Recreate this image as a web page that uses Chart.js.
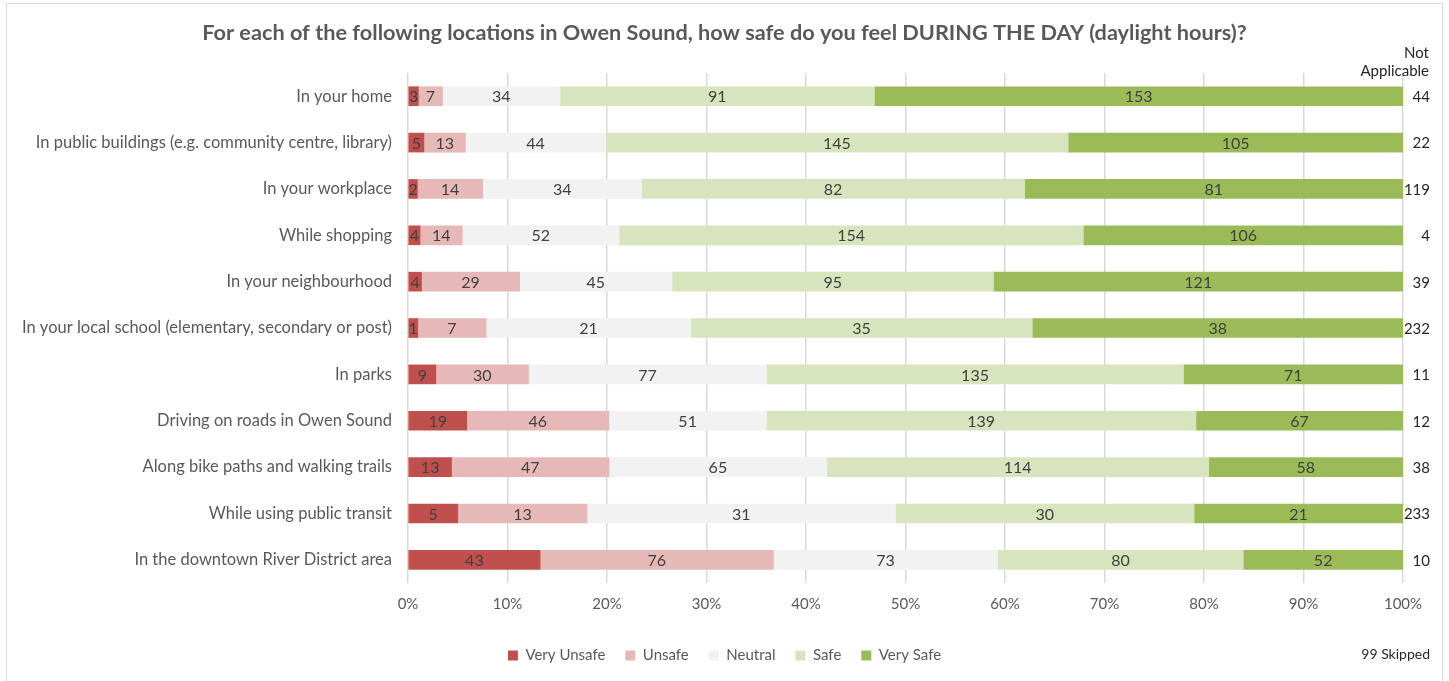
<!DOCTYPE html>
<html>
<head>
<meta charset="utf-8">
<script src="https://cdn.jsdelivr.net/npm/chart.js@4.4.1/dist/chart.umd.min.js"></script>
<style>
  html, body { margin: 0; padding: 0; background: #fff; }
  #wrap { position: relative; width: 1449px; height: 681px; }
  #frame { position: absolute; left: 6px; top: 3px; width: 1437px; height: 678px; border: 1.5px solid #d9d9d9; border-bottom: none; box-sizing: border-box; pointer-events: none; }
  canvas { position: absolute; left: 0; top: 0; }
</style>
</head>
<body>
<div id="wrap">
  <canvas id="chart" width="1449" height="681"></canvas>
  <div id="frame"></div>
</div>
<script>
/* global Chart */

const FONT = 'Lato, "Open Sans", "Liberation Sans", sans-serif';

const locations = [
  'In your home',
  'In public buildings (e.g. community centre, library)',
  'In your workplace',
  'While shopping',
  'In your neighbourhood',
  'In your local school (elementary, secondary or post)',
  'In parks',
  'Driving on roads in Owen Sound',
  'Along bike paths and walking trails',
  'While using public transit',
  'In the downtown River District area',
];

const veryUnsafe = [3, 5, 2, 4, 4, 1, 9, 19, 13, 5, 43];
const unsafe = [7, 13, 14, 14, 29, 7, 30, 46, 47, 13, 76];
const neutral = [34, 44, 34, 52, 45, 21, 77, 51, 65, 31, 73];
const safe = [91, 145, 82, 154, 95, 35, 135, 139, 114, 30, 80];
const verySafe = [153, 105, 81, 106, 121, 38, 71, 67, 58, 21, 52];
const notApplicable = [44, 22, 119, 4, 39, 232, 11, 12, 38, 233, 10];
const skipped = 99;

const seriesNames = ['Very Unsafe', 'Unsafe', 'Neutral', 'Safe', 'Very Safe'];
const seriesColors = ['#C0504D', '#E6B9B8', '#F2F2F2', '#D7E4BD', '#9BBB59'];
const seriesCounts = [veryUnsafe, unsafe, neutral, safe, verySafe];

// row totals (not applicable excluded)
const totals = locations.map((_, i) => seriesCounts.reduce((s, arr) => s + arr[i], 0));

const datasets = seriesCounts.map((counts, k) => ({
  label: seriesNames[k],
  data: counts.map((c, i) => (c / totals[i]) * 100),
  counts: counts,
  backgroundColor: seriesColors[k],
  borderWidth: 0,
  barThickness: 19,
}));

// let the long category labels run into the left padding instead of being clipped
const widenLabelArea = {
  id: 'widenLabelArea',
  afterLayout(chart) {
    const y = chart.scales.y;
    y.width += y.left;
    y.left = 0;
  },
};

// counts written in the middle of each segment
const segmentLabels = {
  id: 'segmentLabels',
  afterDatasetsDraw(chart) {
    const ctx = chart.ctx;
    ctx.save();
    ctx.font = '16px ' + FONT;
    ctx.fillStyle = '#404040';
    ctx.textAlign = 'center';
    ctx.textBaseline = 'middle';
    chart.data.datasets.forEach((ds, di) => {
      chart.getDatasetMeta(di).data.forEach((bar, i) => {
        const x = (bar.x + bar.base) / 2;
        ctx.fillText(String(ds.counts[i]), x, bar.y + 1);
      });
    });
    ctx.restore();
  },
};

// "Not Applicable" column and skipped note
const sideNotes = {
  id: 'sideNotes',
  afterDraw(chart) {
    const ctx = chart.ctx;
    const meta = chart.getDatasetMeta(0);
    ctx.save();
    ctx.fillStyle = '#262626';
    ctx.textAlign = 'right';
    ctx.textBaseline = 'middle';
    ctx.font = '15px ' + FONT;
    ctx.fillText('Not', 1429, 53);
    ctx.fillText('Applicable', 1429, 71);
    meta.data.forEach((bar, i) => {
      ctx.fillText(String(notApplicable[i]), 1430, bar.y + 1);
    });
    ctx.font = '14px ' + FONT;
    ctx.fillText(skipped + ' Skipped', 1430, 654);
    ctx.restore();
  },
};

new Chart(document.getElementById('chart'), {
  type: 'bar',
  data: { labels: locations, datasets: datasets },
  options: {
    indexAxis: 'y',
    responsive: false,
    animation: false,
    layout: { padding: { left: 46, right: 46, top: 0, bottom: 8 } },
    scales: {
      x: {
        stacked: true,
        min: 0,
        max: 100,
        ticks: {
          stepSize: 10,
          color: '#595959',
          font: { size: 15, family: FONT },
          padding: 12,
          callback: (v) => v + '%',
        },
        grid: { color: '#d9d9d9', lineWidth: 1.5, drawTicks: false },
        border: { display: false },
        afterFit(scale) {
          scale.height = 45;
        },
      },
      y: {
        stacked: true,
        ticks: {
          color: '#595959',
          font: { size: 16.5, family: FONT },
          padding: 16,
        },
        grid: { display: false, drawTicks: false },
        border: { display: false },
        afterFit(scale) {
          scale.width = 362;
        },
      },
    },
    plugins: {
      title: {
        display: true,
        text: 'For each of the following locations in Owen Sound, how safe do you feel DURING THE DAY (daylight hours)?',
        color: '#595959',
        font: { size: 21.7, weight: 'bold', family: FONT },
        padding: { top: 20, bottom: 27 },
      },
      legend: {
        position: 'bottom',
        labels: {
          boxWidth: 10,
          boxHeight: 10,
          padding: 20,
          color: '#595959',
          font: { size: 15, family: FONT },
        },
      },
      tooltip: { enabled: false },
    },
  },
  plugins: [widenLabelArea, segmentLabels, sideNotes],
});
</script>
</body>
</html>
